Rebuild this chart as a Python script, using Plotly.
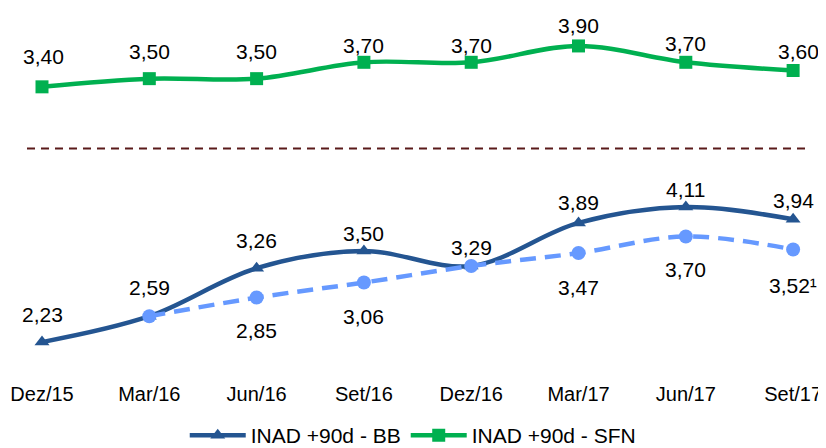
import plotly.graph_objects as go

categories = ["Dez/15", "Mar/16", "Jun/16", "Set/16", "Dez/16", "Mar/17", "Jun/17", "Set/17"]
bb_values = [2.23, 2.59, 3.26, 3.50, 3.29, 3.89, 4.11, 3.94]
sfn_values = [3.40, 3.50, 3.50, 3.70, 3.70, 3.90, 3.70, 3.60]
dashed_values = [None, 2.59, 2.85, 3.06, 3.29, 3.47, 3.70, 3.52]
dashed_labels = [None, None, "2,85", "3,06", None, "3,47", "3,70", "3,52¹"]

BLUE = "#245591"
GREEN = "#00b050"
LIGHT = "#6699ff"
FONT = "Liberation Sans, Arial, sans-serif"

def fmt(v):
    return f"{v:.2f}".replace(".", ",")

x = list(range(len(categories)))

fig = go.Figure()

fig.add_trace(go.Scatter(
    x=x, y=bb_values, mode="lines+markers", name="INAD +90d - BB",
    line=dict(color=BLUE, width=4.5, shape="spline", smoothing=1.0),
    marker=dict(symbol="triangle-up", size=13, color=BLUE),
    yaxis="y", cliponaxis=False,
))
fig.add_trace(go.Scatter(
    x=x, y=dashed_values, mode="lines+markers", showlegend=False,
    line=dict(color=LIGHT, width=4.5, shape="spline", smoothing=1.0, dash="16px,9px"),
    marker=dict(symbol="circle", size=14, color=LIGHT),
    yaxis="y", cliponaxis=False, connectgaps=False,
))
fig.add_trace(go.Scatter(
    x=x, y=sfn_values, mode="lines+markers", name="INAD +90d - SFN",
    line=dict(color=GREEN, width=4.5, shape="spline", smoothing=1.0),
    marker=dict(symbol="square", size=13, color=GREEN),
    yaxis="y2", cliponaxis=False,
))

annotations = []
sfn_shift = [30, 27, 27, 17, 17, 20, 19, 19]
bb_shift = [28, 29, 28, 17, 18, 20, 18, 19]
dash_shift = [0, 0, -33, -34, 0, -34, -33, -36]
sfn_xshift = [1, 0, 0, 0, 0, 0, 0, 5]
for i, v in enumerate(sfn_values):
    annotations.append(dict(x=x[i], y=v, yref="y2", xref="x", text=fmt(v), showarrow=False,
                            yshift=sfn_shift[i], xshift=sfn_xshift[i], yanchor="middle",
                            font=dict(size=21, color="#000000", family=FONT)))
for i, v in enumerate(bb_values):
    annotations.append(dict(x=x[i], y=v, yref="y", xref="x", text=fmt(v), showarrow=False,
                            yshift=bb_shift[i], yanchor="middle",
                            font=dict(size=21, color="#000000", family=FONT)))
for i, lab in enumerate(dashed_labels):
    if lab is None:
        continue
    annotations.append(dict(x=x[i], y=dashed_values[i], yref="y", xref="x", text=lab, showarrow=False,
                            yshift=dash_shift[i], yanchor="middle",
                            font=dict(size=21, color="#000000", family=FONT)))

fig.update_layout(
    width=826, height=448,
    margin=dict(l=0, r=0, t=0, b=75),
    paper_bgcolor="white", plot_bgcolor="white",
    font=dict(family=FONT, color="#000000", size=20),
    xaxis=dict(range=[-0.3169, 7.381], tickvals=x, ticktext=categories,
               showgrid=False, zeroline=False, showline=False, ticks="",
               tickfont=dict(size=20)),
    yaxis=dict(range=[1.702, 6.883], visible=False, showgrid=False),
    yaxis2=dict(range=[-0.185, 4.364], overlaying="y", visible=False, showgrid=False),
    showlegend=True,
    legend=dict(orientation="h", x=0.49, xanchor="center", y=-0.150, yanchor="middle",
                font=dict(size=21), itemwidth=56, bgcolor="rgba(0,0,0,0)"),
    annotations=annotations,
    shapes=[dict(type="line", xref="paper", yref="paper", x0=19/826, x1=803/826,
                 y0=0.622, y1=0.622, line=dict(color="#5a1a1a", width=2, dash="8px,6px"))],
)

fig.write_html("out.html")
